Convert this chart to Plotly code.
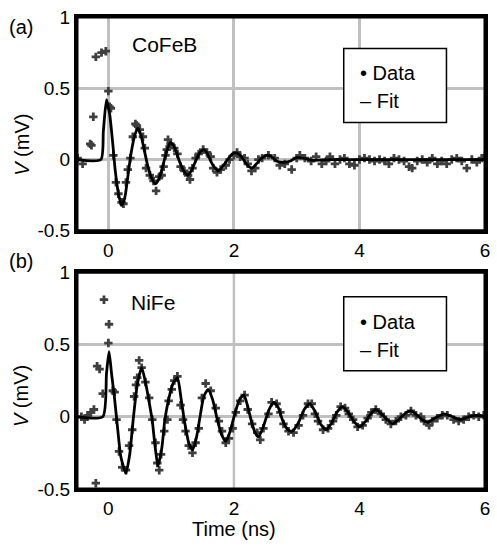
import plotly.graph_objects as go

# ---------------- data ----------------
cofeb_t = [-0.49, -0.41, -0.29, -0.27, -0.24, -0.20, -0.11, -0.04, 0.00, 0.02, 0.04, 0.08,
           0.12, 0.16, 0.21, 0.24, 0.28, 0.31, 0.35, 0.39, 0.43, 0.45, 0.50, 0.55, 0.58,
           0.60, 0.66, 0.72, 0.76, 0.81, 0.85, 0.88, 0.91, 0.93, 0.95, 0.99, 1.05, 1.10,
           1.15, 1.21, 1.27, 1.30, 1.34, 1.39, 1.44, 1.51, 1.57, 1.63, 1.67, 1.73, 1.79,
           1.87, 1.93, 2.00, 2.05, 2.10, 2.17, 2.22, 2.28, 2.34, 2.39, 2.45, 2.55, 2.65,
           2.73, 2.81, 2.92, 3.00, 3.05, 3.13, 3.23, 3.31, 3.40, 3.47, 3.53, 3.61, 3.69,
           3.76, 3.84, 3.92, 4.00, 4.08, 4.16, 4.24, 4.32, 4.40, 4.47, 4.55, 4.63, 4.71,
           4.79, 4.84, 4.92, 5.00, 5.08, 5.16, 5.24, 5.31, 5.39, 5.47, 5.55, 5.63, 5.71,
           5.79, 5.87, 5.95, 6.00]
cofeb_v = [0.01, -0.03, 0.11, 0.10, 0.30, 0.72, 0.75, 0.76, 0.48, 0.37, 0.36, 0.03,
           -0.16, -0.24, -0.30, -0.31, -0.16, -0.07, 0.01, 0.16, 0.25, 0.24, 0.21, 0.16, 0.08,
           -0.06, -0.11, -0.15, -0.22, -0.12, -0.11, -0.05, 0.03, 0.07, 0.14, 0.11, 0.08, 0.04,
           -0.05, -0.08, -0.11, -0.14, -0.06, 0.01, 0.04, 0.07, 0.05, 0.02, -0.06, -0.09, -0.07,
           -0.04, 0.00, 0.03, 0.05, 0.02, 0.01, -0.03, -0.08, -0.06, 0.00, 0.01, 0.03, 0.01,
           -0.04, -0.03, -0.07, 0.01, 0.03, 0.01, -0.01, 0.02, -0.03, -0.01, 0.02, -0.03, 0.00,
           0.01, -0.03, -0.04, 0.00, 0.01, 0.00, -0.01, 0.00, -0.01, -0.03, 0.01, 0.00, -0.01,
           -0.05, -0.06, -0.01, 0.00, -0.02, 0.01, -0.03, -0.01, -0.03, 0.00, 0.01, -0.01, -0.06,
           0.00, -0.02, 0.01, 0.03]

cofeb_fit_t = [-0.50, -0.12, -0.08, -0.03, 0.02, 0.07, 0.11, 0.16, 0.21, 0.26, 0.31, 0.36,
               0.42, 0.47, 0.52, 0.57, 0.63, 0.69, 0.75, 0.81, 0.87, 0.93, 0.99, 1.06, 1.13,
               1.20, 1.27, 1.33, 1.40, 1.46, 1.52, 1.58, 1.64, 1.70, 1.75, 1.82, 1.90, 1.98,
               2.05, 2.12, 2.18, 2.24, 2.29, 2.36, 2.44, 2.52, 2.60, 2.68, 2.78, 2.90, 3.00,
               3.10, 3.25, 3.50, 4.00, 5.00, 6.00]
cofeb_fit_v = [0.00, 0.00, 0.20, 0.42, 0.32, 0.11, -0.08, -0.24, -0.32, -0.27, -0.12, 0.04,
               0.17, 0.22, 0.17, 0.07, -0.05, -0.13, -0.17, -0.13, -0.04, 0.06, 0.12, 0.08, -0.01,
               -0.08, -0.11, -0.07, 0.00, 0.05, 0.07, 0.04, -0.02, -0.06, -0.08, -0.05, 0.00, 0.04,
               0.045, 0.02, -0.02, -0.05, -0.06, -0.03, 0.01, 0.03, 0.02, -0.01, -0.02, -0.01, 0.015,
               0.01, -0.005, 0.00, 0.00, 0.00, 0.00]

nife_t = [-0.43, -0.38, -0.33, -0.28, -0.23, -0.20, -0.18, -0.14, -0.09, -0.07, 0.00, 0.01,
          0.07, 0.10, 0.13, 0.17, 0.22, 0.28, 0.33, 0.38, 0.41, 0.44, 0.46, 0.49, 0.53,
          0.59, 0.65, 0.70, 0.75, 0.78, 0.81, 0.84, 0.89, 0.94, 0.96, 1.01, 1.05, 1.10,
          1.15, 1.19, 1.23, 1.28, 1.34, 1.39, 1.44, 1.49, 1.55, 1.63, 1.71, 1.76, 1.81,
          1.87, 1.92, 1.98, 2.03, 2.10, 2.17, 2.22, 2.29, 2.37, 2.42, 2.47, 2.55, 2.60,
          2.68, 2.74, 2.79, 2.87, 2.95, 3.03, 3.10, 3.18, 3.24, 3.29, 3.34, 3.42, 3.50,
          3.58, 3.63, 3.70, 3.77, 3.83, 3.90, 3.97, 4.05, 4.13, 4.19, 4.26, 4.34, 4.42,
          4.50, 4.58, 4.66, 4.74, 4.82, 4.90, 4.98, 5.03, 5.11, 5.16, 5.24, 5.32, 5.40,
          5.50, 5.58, 5.66, 5.74, 5.82, 5.90, 5.98]
nife_v = [0.00, -0.02, 0.01, 0.03, 0.05, -0.46, 0.35, 0.33, 0.16, 0.81, 0.51, 0.64,
          0.18, 0.17, -0.02, -0.24, -0.35, -0.37, -0.20, -0.09, 0.14, 0.22, 0.27, 0.39, 0.34,
          0.24, 0.13, -0.02, -0.18, -0.32, -0.37, -0.26, -0.10, -0.02, 0.11, 0.19, 0.25, 0.28,
          0.08, -0.02, -0.10, -0.20, -0.25, -0.18, -0.08, 0.13, 0.23, 0.18, 0.06, -0.03, -0.10,
          -0.18, -0.15, -0.08, 0.03, 0.11, 0.15, 0.05, -0.05, -0.11, -0.16, -0.08, 0.02, 0.10,
          0.09, 0.03, -0.05, -0.10, -0.11, -0.06, 0.01, 0.09, 0.09, 0.02, -0.03, -0.09, -0.08,
          -0.03, 0.01, 0.07, 0.06, 0.02, -0.02, -0.07, -0.06, -0.01, 0.03, 0.05, 0.02, -0.02,
          -0.05, -0.03, 0.00, 0.01, 0.04, 0.01, 0.00, -0.03, -0.06, -0.03, -0.01, 0.01, 0.01,
          -0.02, -0.03, -0.02, 0.00, 0.01, 0.00, 0.01]

nife_fit_t = [-0.50, -0.09, -0.03, 0.01, 0.05, 0.10, 0.14, 0.20, 0.28, 0.34, 0.40, 0.46,
              0.53, 0.59, 0.65, 0.70, 0.74, 0.79, 0.85, 0.90, 0.96, 1.03, 1.10, 1.16, 1.22,
              1.28, 1.34, 1.40, 1.46, 1.52, 1.59, 1.66, 1.73, 1.80, 1.87, 1.94, 2.02, 2.09,
              2.16, 2.22, 2.29, 2.35, 2.39, 2.46, 2.55, 2.63, 2.70, 2.78, 2.86, 2.93, 3.03,
              3.12, 3.21, 3.30, 3.38, 3.47, 3.56, 3.64, 3.73, 3.82, 3.91, 4.00, 4.10, 4.18,
              4.26, 4.35, 4.44, 4.53, 4.62, 4.72, 4.82, 4.92, 5.00, 5.08, 5.20, 5.35, 5.48,
              5.60, 5.74, 5.87, 6.00]
nife_fit_v = [0.00, 0.00, 0.30, 0.45, 0.30, 0.12, -0.05, -0.28, -0.39, -0.26, 0.00, 0.22,
              0.34, 0.24, 0.10, -0.03, -0.19, -0.34, -0.22, -0.02, 0.12, 0.23, 0.27, 0.12, -0.05,
              -0.18, -0.23, -0.15, 0.00, 0.14, 0.19, 0.12, -0.01, -0.12, -0.17, -0.10, 0.03, 0.12,
              0.15, 0.07, -0.05, -0.12, -0.14, -0.08, 0.04, 0.10, 0.07, -0.03, -0.09, -0.10, -0.04,
              0.05, 0.09, 0.03, -0.05, -0.09, -0.04, 0.03, 0.07, 0.03, -0.03, -0.07, -0.03, 0.02,
              0.05, 0.02, -0.02, -0.05, -0.02, 0.02, 0.04, 0.01, -0.02, -0.04, -0.01, 0.02, 0.00,
              -0.02, 0.00, 0.01, 0.00]

x_ticks = [0, 2, 4, 6]
y_ticks = [-0.5, 0, 0.5, 1]
y_ticktext = ["-0.5", "0", "0.5", "1"]

# ---------------- layout geometry ----------------
W, H = 497, 555
L, R, T, B = 77, 7, 10, 66
PW, PH = W - L - R, H - T - B
TOP_PANEL = (10, 227)     # pixel rows of top panel (top, bottom)
BOT_PANEL = (269, 489)


def px(x):
    return (x - L) / PW


def py(y):
    return (H - B - y) / PH


FONT = "Liberation Sans, Arial, sans-serif"
GRID = "#c0c0c0"
MARK = "#3f3f3f"
FRAME = "#000000"

fig = go.Figure()
for (xa, ya), (dt, dv, ft, fv) in zip([("x", "y"), ("x2", "y2")],
                                       [(cofeb_t, cofeb_v, cofeb_fit_t, cofeb_fit_v),
                                        (nife_t, nife_v, nife_fit_t, nife_fit_v)]):
    fig.add_trace(go.Scatter(x=dt, y=dv, mode="markers", xaxis=xa, yaxis=ya,
                             marker=dict(symbol="cross", size=7, color=MARK),
                             showlegend=False))
    fig.add_trace(go.Scatter(x=ft, y=fv, mode="lines", xaxis=xa, yaxis=ya,
                             line=dict(color="black", width=2.8, shape="spline", smoothing=0.6),
                             showlegend=False))

ax = dict(showline=True, mirror=True, linecolor=FRAME, linewidth=3, ticks="", zeroline=False,
          gridcolor=GRID, gridwidth=2.5, tickfont=dict(family=FONT, size=19, color="black"))

fig.update_layout(
    width=W, height=H, margin=dict(l=L, r=R, t=T, b=B),
    plot_bgcolor="white", paper_bgcolor="white", showlegend=False,
    font=dict(family=FONT, color="black"),
    xaxis=dict(domain=[0, 1], range=[-0.5, 6], tickvals=x_ticks, showgrid=True, anchor="y", **ax),
    yaxis=dict(domain=[py(TOP_PANEL[1]), py(TOP_PANEL[0])], range=[-0.5, 1], tickvals=y_ticks,
               ticktext=y_ticktext, showgrid=True, anchor="x", **ax),
    xaxis2=dict(domain=[0, 1], range=[-0.5, 6], tickvals=x_ticks, showgrid=False, anchor="y2", **ax),
    yaxis2=dict(domain=[py(BOT_PANEL[1]), py(BOT_PANEL[0])], range=[-0.5, 1], tickvals=y_ticks,
                ticktext=y_ticktext, showgrid=True, anchor="x2", **ax),
)

shapes = [
    dict(type="line", xref="x2", yref="paper", x0=2, x1=2, y0=py(BOT_PANEL[1]), y1=py(BOT_PANEL[0]),
         line=dict(color=GRID, width=2.5), layer="below"),
    # panel frames (drawn again above everything)
    dict(type="rect", xref="paper", yref="paper", x0=0, x1=1,
         y0=py(TOP_PANEL[1]), y1=py(TOP_PANEL[0]),
         line=dict(color=FRAME, width=3), fillcolor="rgba(0,0,0,0)", layer="above"),
    dict(type="rect", xref="paper", yref="paper", x0=0, x1=1,
         y0=py(BOT_PANEL[1]), y1=py(BOT_PANEL[0]),
         line=dict(color=FRAME, width=3), fillcolor="rgba(0,0,0,0)", layer="above"),
    # legend boxes
    dict(type="rect", xref="paper", yref="paper", x0=px(347), x1=px(451), y0=py(117), y1=py(42),
         line=dict(color="black", width=1.5), fillcolor="white", layer="above"),
    dict(type="rect", xref="paper", yref="paper", x0=px(347), x1=px(451), y0=py(369), y1=py(294),
         line=dict(color="black", width=1.5), fillcolor="white", layer="above"),
]
fig.update_layout(shapes=shapes)


def ann(text, x, y, size=20, xanchor="center", angle=0):
    return dict(text=text, xref="paper", yref="paper", x=px(x), y=py(y), xanchor=xanchor,
                yanchor="middle", showarrow=False, textangle=angle,
                font=dict(family=FONT, size=size, color="black"))


annotations = [
    ann("(a)", 20, 20),
    ann("(b)", 20, 258),
    ann("CoFeB", 166, 38, size=21),
    ann("NiFe", 154, 300, size=21),
    ann("<i>V</i> (mV)", 21, 140, angle=-90),
    ann("<i>V</i> (mV)", 21, 395, angle=-90),
    ann("Time (ns)", 236, 530),
    ann("• Data", 361, 67, xanchor="left"),
    ann("– Fit", 361, 95, xanchor="left"),
    ann("• Data", 361, 320, xanchor="left"),
    ann("– Fit", 361, 348, xanchor="left"),
]
fig.update_layout(annotations=annotations)

fig.write_html("out.html", config={"displayModeBar": False},
               post_script="document.body.style.margin='0';document.body.style.overflow='hidden';")
